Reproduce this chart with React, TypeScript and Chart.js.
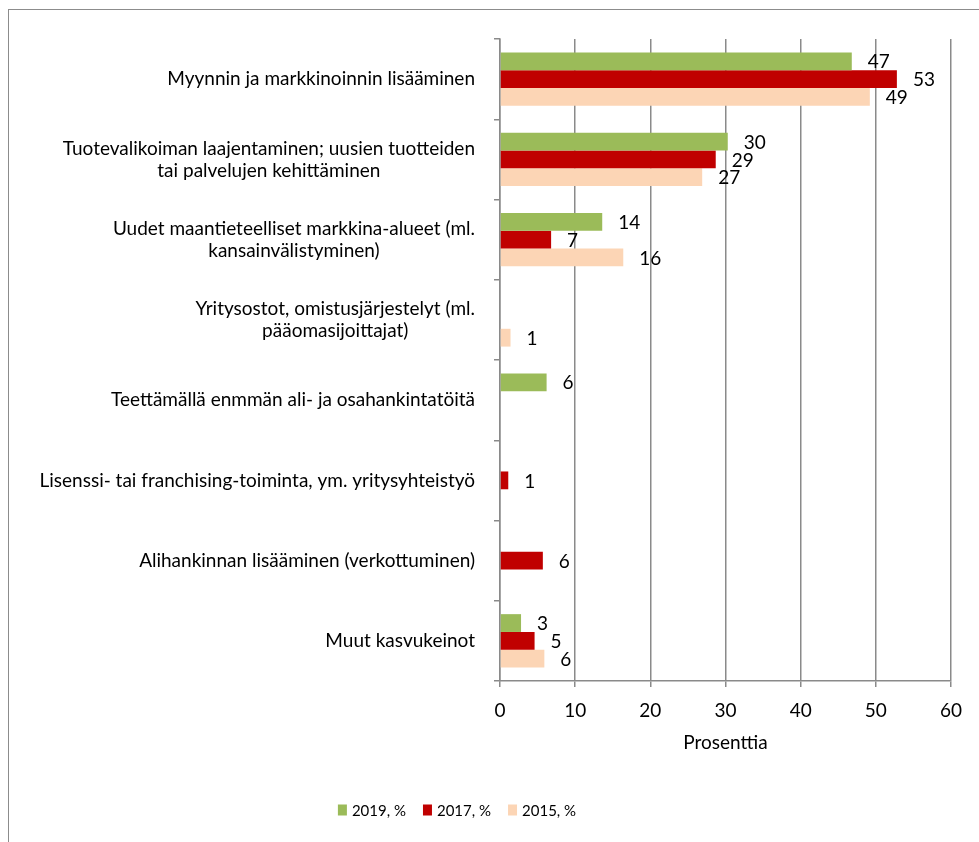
import React, { useEffect, useRef } from 'react';
import { Chart, registerables } from 'chart.js';

Chart.register(...registerables);

const categories: string[][] = [
  ['Myynnin ja markkinoinnin lisääminen'],
  ['Tuotevalikoiman laajentaminen; uusien tuotteiden', 'tai palvelujen kehittäminen'],
  ['Uudet maantieteelliset markkina-alueet (ml.', 'kansainvälistyminen)'],
  ['Yritysostot, omistusjärjestelyt (ml.', 'pääomasijoittajat)'],
  ['Teettämällä enmmän ali- ja osahankintatöitä'],
  ['Lisenssi- tai franchising-toiminta, ym. yritysyhteistyö'],
  ['Alihankinnan lisääminen (verkottuminen)'],
  ['Muut kasvukeinot'],
];

const values2019: (number | null)[] = [46.8, 30.3, 13.6, null, 6.2, null, null, 2.8];
const values2017: (number | null)[] = [52.8, 28.7, 6.8, null, null, 1.1, 5.7, 4.6];
const values2015: (number | null)[] = [49.2, 26.9, 16.4, 1.4, null, null, null, 5.9];

const seriesLabels = ['2019, %', '2017, %', '2015, %'];
const seriesColors = ['#9BBB59', '#C00000', '#FCD5B5'];

const axisMin = 0;
const axisMax = 60;
const axisStep = 10;
const axisTitle = 'Prosenttia';

const FONT = 'Lato';
const FS = 19;
const GRID = '#8a8a8a';

const drawPlugin = {
  id: 'customText',
  afterDraw(chart: any) {
    const ctx = chart.ctx;
    const yScale = chart.scales.y;
    const area = chart.chartArea;
    ctx.save();
    // category labels
    ctx.font = `${FS}px ${FONT}`;
    ctx.fillStyle = '#000';
    ctx.textAlign = 'center';
    ctx.textBaseline = 'middle';
    const lineH = 22;
    const rightEdge = area.left - 25;
    (chart.data.labels as string[][]).forEach((lines, i) => {
      const cy = yScale.getPixelForValue(i);
      const maxW = Math.max(...lines.map((l) => ctx.measureText(l).width));
      const cx = rightEdge - maxW / 2;
      const startY = cy - ((lines.length - 1) * lineH) / 2;
      lines.forEach((l, k) => ctx.fillText(l, cx, startY + k * lineH));
    });
    // data labels
    ctx.textAlign = 'left';
    chart.data.datasets.forEach((ds: any, di: number) => {
      const meta = chart.getDatasetMeta(di);
      meta.data.forEach((bar: any, j: number) => {
        const v = ds.data[j];
        if (v === null || v === undefined) return;
        ctx.fillText(String(Math.round(v)), bar.x + 16, bar.y + 1);
      });
    });
    // legend
    ctx.font = `15px ${FONT}`;
    const boxW = 9;
    const boxH = 11;
    const gapBox = 5;
    const gapItem = 17;
    const items = chart.data.datasets.map((ds: any) => ({
      text: ds.label,
      color: ds.backgroundColor,
      w: ctx.measureText(ds.label).width,
    }));
    const total = items.reduce((s: number, it: any) => s + boxW + gapBox + it.w, 0) + gapItem * (items.length - 1);
    let x = 457 - total / 2;
    const ly = 810;
    items.forEach((it: any) => {
      ctx.fillStyle = it.color;
      ctx.fillRect(x, ly - boxH / 2, boxW, boxH);
      x += boxW + gapBox;
      ctx.fillStyle = '#000';
      ctx.fillText(it.text, x, ly + 1);
      x += it.w + gapItem;
    });
    ctx.restore();
  },
};

export default function App() {
  const ref = useRef<HTMLCanvasElement | null>(null);
  useEffect(() => {
    if (!ref.current) return;
    const chart = new Chart(ref.current, {
      type: 'bar',
      data: {
        labels: categories,
        datasets: [
          { label: seriesLabels[0], data: values2019, backgroundColor: seriesColors[0] },
          { label: seriesLabels[1], data: values2017, backgroundColor: seriesColors[1] },
          { label: seriesLabels[2], data: values2015, backgroundColor: seriesColors[2] },
        ],
      },
      options: {
        indexAxis: 'y',
        responsive: false,
        animation: false,
        devicePixelRatio: 1,
        datasets: { bar: { categoryPercentage: 0.666, barPercentage: 1.0, borderWidth: 0 } },
        layout: { padding: { left: 0, right: 28, top: 39, bottom: 81 } },
        plugins: { legend: { display: false }, tooltip: { enabled: false } },
        scales: {
          y: {
            type: 'category',
            ticks: { display: false },
            grid: { drawOnChartArea: false, drawTicks: true, tickLength: 6, color: GRID, lineWidth: 1.5 },
            border: { display: true, color: GRID, width: 1.5 },
            afterFit: (s: any) => { s.width = 500; },
          },
          x: {
            type: 'linear',
            position: 'bottom',
            min: axisMin,
            max: axisMax,
            ticks: { stepSize: axisStep, color: '#000', font: { family: FONT, size: FS }, padding: 12 },
            grid: { color: GRID, lineWidth: 1.5, tickLength: 6, drawTicks: true },
            border: { display: true, color: GRID, width: 1.5 },
            title: { display: true, text: axisTitle, color: '#000', font: { family: FONT, size: FS }, padding: { top: 0, bottom: 7 } },
            afterFit: (s: any) => { s.height = 80; },
          },
        },
      },
      plugins: [drawPlugin],
    } as any);
    return () => chart.destroy();
  }, []);
  return (
    <div>
      <div style={{ position: 'absolute', left: 8, top: 9, width: 971, height: 833, borderLeft: '1px solid #8c8c8c', borderTop: '1px solid #8c8c8c', boxSizing: 'border-box' }} />
      <canvas ref={ref} width={979} height={842} style={{ position: 'absolute', left: 0, top: 0, width: 979, height: 842 }} />
    </div>
  );
}
